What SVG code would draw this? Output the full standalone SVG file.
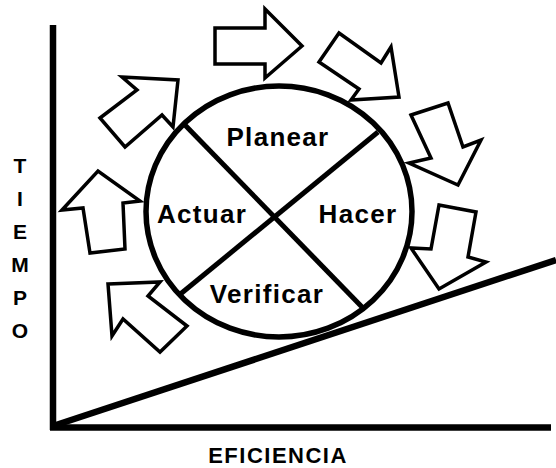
<svg xmlns="http://www.w3.org/2000/svg" width="556" height="468" viewBox="0 0 556 468">
<style>
.arrow{fill:#fff;stroke:#000;stroke-width:3.5;stroke-linejoin:miter}
.axis{stroke:#000;stroke-width:6.5;fill:none;stroke-linecap:butt}
.ring{fill:none;stroke:#000;stroke-width:5.5}
.cross{stroke:#000;stroke-width:5;fill:none}
.lbl{font-family:"Liberation Sans",Arial,sans-serif;font-weight:bold;font-size:26px;letter-spacing:1.3px;fill:#000;text-anchor:middle}
.ax{font-family:"Liberation Sans",Arial,sans-serif;font-weight:bold;fill:#000;text-anchor:middle}
</style>
<rect width="556" height="468" fill="#fff"/>
<g id="axes">
<path class="axis" d="M53,25 V430"/>
<path class="axis" d="M50,427.5 H551"/>
<path class="axis" d="M56,425 L556,260" stroke-width="6"/>
</g>
<g id="arrows">
<polygon id="arrow1" class="arrow" points="215,28 265,28 265,9 302,46 265,78 265,64 215,64"/>
<polygon id="arrow2" class="arrow" points="319,62 339,33 381,63 391,47 399,97 351,100 359,89"/>
<polygon id="arrow3" class="arrow" points="411,115 448,103 463,147 481,140 458,185 409,163 431,158"/>
<polygon id="arrow4" class="arrow" points="439,205 476,212 468,257 486,262 439,289 411,248 431,249"/>
<polygon id="arrow5" class="arrow" points="100,118 137,90 122,77 178,80 173,127 162,115 125,147"/>
<polygon id="arrow6" class="arrow" points="62,210 98,171 140,201 123,203 125,249 90,253 83,208"/>
<polygon id="arrow7" class="arrow" points="108,284 160,282 148,296 187,326 160,352 123,319 112,336"/>
</g>
<g id="cycle">
<ellipse class="ring" cx="279" cy="211.5" rx="133" ry="125.5"/>
</g>
<g id="connectors">
<line class="cross" x1="183" y1="123" x2="362" y2="307"/>
<line class="cross" x1="378" y1="132" x2="178" y2="296"/>
</g>
<g id="planear"><text class="lbl" x="278" y="146">Planear</text></g>
<g id="actuar"><text class="lbl" x="202" y="223">Actuar</text></g>
<g id="hacer"><text class="lbl" x="358" y="223">Hacer</text></g>
<g id="verificar"><text class="lbl" x="267" y="303">Verificar</text></g>
<g id="tiempo" class="ax" font-size="21">
<text x="20" y="173">T</text>
<text x="20" y="206">I</text>
<text x="20" y="239">E</text>
<text x="20" y="272">M</text>
<text x="20" y="305">P</text>
<text x="20" y="338">O</text>
</g>
<g id="eficiencia"><text class="ax" font-size="22" letter-spacing="1.5" x="278" y="463">EFICIENCIA</text></g>
</svg>
